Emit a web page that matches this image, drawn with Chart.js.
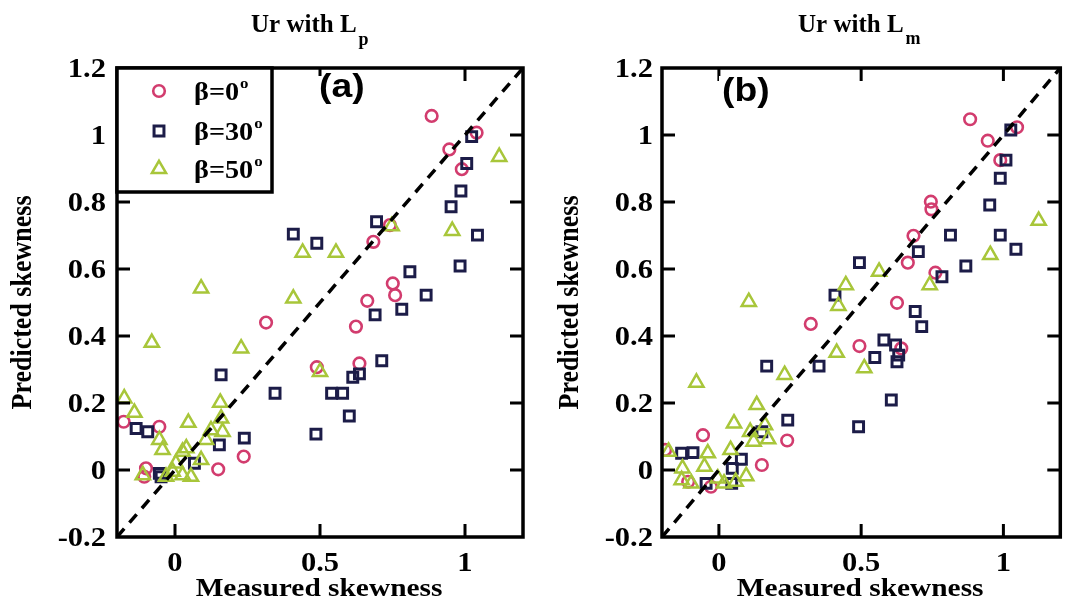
<!DOCTYPE html>
<html>
<head>
<meta charset="utf-8">
<script src="https://cdn.jsdelivr.net/npm/chart.js@4.4.1/dist/chart.umd.min.js"></script>
<style>
  html, body { margin: 0; padding: 0; background: #fff; }
  body { width: 1071px; height: 603px; overflow: hidden; position: relative; }
  .panel { position: absolute; top: 0; height: 603px; }
  #panelA { left: 0; width: 540px; }
  #panelB { left: 540px; width: 531px; }
</style>
</head>
<body>
<div class="panel" id="panelA"><canvas id="chartA"></canvas></div>
<div class="panel" id="panelB"><canvas id="chartB"></canvas></div>
<script>
// Axis ticks and their labels (shared by both panels)
const xTicks = [0, 0.5, 1];
const xTickLabels = ['0', '0.5', '1'];
const yTicks = [-0.2, 0, 0.2, 0.4, 0.6, 0.8, 1, 1.2];
const yTickLabels = ['-0.2', '0', '0.2', '0.4', '0.6', '0.8', '1', '1.2'];
const xAxisTitle = 'Measured skewness';
const yAxisTitle = 'Predicted skewness';
const seriesLabels = ['\u03B2=0', '\u03B2=30', '\u03B2=50'];
const diagonal = [-0.2, 1.2];

// (a) Ursell number with L_p : [measured, predicted]
const lpBeta0 = [[0.885,1.057],[1.040,1.007],[0.946,0.957],[0.989,0.898],[0.684,0.681],[0.741,0.731],
  [0.751,0.557],[0.759,0.522],[0.663,0.505],[0.624,0.428],[0.636,0.318],[0.489,0.307],[0.314,0.440],
  [-0.177,0.144],[-0.054,0.129],[0.237,0.040],[0.149,0.002],[-0.100,0.005],[-0.106,-0.020]];
const lpBeta30 = [[1.023,0.995],[1.006,0.915],[0.986,0.833],[0.952,0.786],[1.043,0.701],[0.695,0.741],
  [0.408,0.704],[0.489,0.677],[0.810,0.592],[0.983,0.609],[0.866,0.522],[0.782,0.480],[0.690,0.463],
  [0.713,0.326],[0.636,0.287],[0.613,0.277],[0.540,0.229],[0.578,0.229],[0.601,0.161],[0.486,0.107],
  [0.345,0.229],[0.159,0.284],[-0.134,0.124],[-0.094,0.114],[0.153,0.075],[0.239,0.095],[0.067,0.020],
  [-0.054,-0.010],[-0.048,-0.020]];
const lpBeta50 = [[1.118,0.935],[0.956,0.714],[0.747,0.728],[0.440,0.649],[0.555,0.649],[0.408,0.512],
  [0.500,0.293],[0.090,0.542],[-0.080,0.380],[0.228,0.363],[-0.175,0.214],[-0.140,0.171],[0.046,0.141],
  [0.156,0.201],[0.159,0.154],[0.164,0.114],[0.124,0.119],[0.107,0.090],[-0.054,0.090],[-0.043,0.060],
  [0.026,0.055],[0.039,0.065],[0.090,0.030],[0.003,0.020],[-0.111,-0.015],[-0.031,-0.020],[0.026,-0.015],
  [0.055,-0.020],[-0.008,-0.005]];

// (b) Ursell number with L_m : [measured, predicted]
const lmBeta0 = [[0.883,1.047],[1.048,1.023],[0.945,0.983],[0.989,0.925],[0.745,0.801],[0.747,0.778],
  [0.684,0.699],[0.664,0.619],[0.761,0.589],[0.626,0.499],[0.641,0.363],[0.494,0.370],[0.323,0.436],
  [-0.056,0.104],[0.240,0.088],[-0.189,0.060],[0.151,0.015],[-0.108,-0.035],[-0.028,-0.050]];
const lmBeta30 = [[1.026,1.015],[1.009,0.925],[0.989,0.871],[0.952,0.791],[0.989,0.701],[1.044,0.659],
  [0.814,0.701],[0.701,0.652],[0.494,0.619],[0.868,0.609],[0.784,0.577],[0.408,0.522],[0.690,0.473],
  [0.713,0.428],[0.580,0.388],[0.621,0.373],[0.632,0.343],[0.626,0.323],[0.548,0.336],[0.606,0.209],
  [0.491,0.129],[0.168,0.310],[0.352,0.310],[0.242,0.149],[0.151,0.114],[-0.131,0.050],[-0.091,0.052],
  [0.079,0.032],[0.047,0.005],[-0.045,-0.040],[0.045,-0.040]];
const lmBeta50 = [[1.124,0.744],[0.954,0.642],[0.563,0.592],[0.446,0.552],[0.741,0.552],[0.420,0.490],
  [0.414,0.350],[0.511,0.304],[0.105,0.502],[0.231,0.284],[-0.079,0.261],[0.133,0.194],[0.053,0.139],
  [0.162,0.134],[0.173,0.092],[0.122,0.085],[0.110,0.114],[-0.177,0.055],[-0.039,0.050],[0.041,0.060],
  [-0.128,0.005],[-0.051,0.010],[0.096,-0.018],[-0.004,-0.025],[-0.097,-0.040],[0.018,-0.040],
  [0.059,-0.035],[-0.131,-0.030]];

const SERIF = '"Liberation Serif", "Times New Roman", serif';
const SANS = '"Liberation Sans", Arial, sans-serif';
const SX = 1.13;           // horizontal widening of the lettering
const TICK = 13;
const styles = [
  { pointStyle: 'circle',   radius: 5.8, width: 2.6, color: '#d23c6e' },
  { pointStyle: 'rect',     radius: 7.0, width: 3.0, color: '#1c1c48' },
  { pointStyle: 'triangle', radius: 8.2, width: 2.5, color: '#a8c63a' }
];

function toPoints(pairs) { return pairs.map(p => ({ x: p[0], y: p[1] })); }

function wideText(ctx, text, x, y, align, font, sx) {
  const k = sx === undefined ? SX : sx;
  ctx.save();
  ctx.font = font;
  const w = ctx.measureText(text).width * k;
  const x0 = align === 'center' ? x - w / 2 : (align === 'right' ? x - w : x);
  ctx.translate(x0, y);
  ctx.scale(k, 1);
  ctx.textAlign = 'left';
  ctx.textBaseline = 'alphabetic';
  ctx.fillText(text, 0, 0);
  ctx.restore();
  return w;
}

function marker(ctx, st, x, y) {
  ctx.save();
  ctx.strokeStyle = st.color;
  ctx.lineWidth = st.width;
  ctx.beginPath();
  if (st.pointStyle === 'circle') {
    ctx.arc(x, y, st.radius, 0, Math.PI * 2);
  } else if (st.pointStyle === 'rect') {
    const s = st.radius * Math.SQRT1_2;
    ctx.rect(x - s, y - s, 2 * s, 2 * s);
  } else {
    const r = st.radius;
    for (let k = 0; k < 3; k++) {
      const a = k * 2 * Math.PI / 3;
      const px = x + Math.sin(a) * r, py = y - Math.cos(a) * r;
      if (k === 0) ctx.moveTo(px, py); else ctx.lineTo(px, py);
    }
    ctx.closePath();
  }
  ctx.stroke();
  ctx.restore();
}

const framePlugin = {
  id: 'frame',
  afterDatasetsDraw(chart, args, o) {
    const { ctx, chartArea: a } = chart;
    const xs = chart.scales.x, ys = chart.scales.y;
    ctx.save();
    ctx.strokeStyle = '#000';
    ctx.fillStyle = '#000';
    ctx.lineCap = 'butt';

    // inward tick marks on all four sides
    ctx.lineWidth = 3;
    ctx.beginPath();
    xTicks.forEach(v => {
      const px = xs.getPixelForValue(v);
      ctx.moveTo(px, a.bottom); ctx.lineTo(px, a.bottom - TICK);
      ctx.moveTo(px, a.top); ctx.lineTo(px, a.top + TICK);
    });
    yTicks.forEach(v => {
      if (v <= ys.min || v >= ys.max) return;
      const py = ys.getPixelForValue(v);
      ctx.moveTo(a.left, py); ctx.lineTo(a.left + TICK, py);
      ctx.moveTo(a.right, py); ctx.lineTo(a.right - TICK, py);
    });
    ctx.stroke();

    // axes box
    ctx.lineWidth = 3.5;
    ctx.strokeRect(a.left, a.top, a.right - a.left, a.bottom - a.top);

    // legend box
    if (o.legend) {
      const lx = a.left, ly = a.top, lw = 155, lh = 124;
      ctx.fillStyle = '#fff';
      ctx.fillRect(lx, ly, lw, lh);
      ctx.lineWidth = 3.5;
      ctx.strokeRect(lx, ly, lw, lh);
      const rows = [91, 131, 169];
      seriesLabels.forEach((lab, i) => {
        marker(ctx, styles[i], lx + 42, rows[i]);
        ctx.fillStyle = '#000';
        const w = wideText(ctx, lab, lx + 77, rows[i] + 9, 'left', 'bold 25px ' + SERIF);
        wideText(ctx, 'o', lx + 78 + w, rows[i] - 3, 'left', 'bold 15px ' + SERIF);
      });
    }

    // panel letter on a white patch
    const letterFont = 'bold 33px ' + SANS;
    ctx.font = letterFont;
    const lw2 = ctx.measureText(o.letter).width * SX;
    ctx.fillStyle = '#fff';
    ctx.fillRect(o.letterX - 3, a.top + 8, lw2 + 6, 32);
    ctx.fillStyle = '#000';
    wideText(ctx, o.letter, o.letterX, o.letterY, 'left', letterFont);

    // tick labels
    const tickFont = 'bold 27px ' + SERIF;
    yTicks.forEach((v, i) => {
      wideText(ctx, yTickLabels[i], a.left - o.yLabelGap, ys.getPixelForValue(v) + 9, 'right', tickFont);
    });
    xTicks.forEach((v, i) => {
      wideText(ctx, xTickLabels[i], xs.getPixelForValue(v), 571, 'center', tickFont);
    });

    // axis titles
    const titleFont = 'bold 26px ' + SERIF;
    wideText(ctx, xAxisTitle, (a.left + a.right) / 2 - 1, 596, 'center', titleFont);
    ctx.save();
    ctx.translate(o.yTitleX, (a.top + a.bottom) / 2);
    ctx.rotate(-Math.PI / 2);
    ctx.scale(1, SX);
    ctx.font = titleFont;
    ctx.textAlign = 'center';
    ctx.textBaseline = 'middle';
    ctx.fillText(yAxisTitle, 0, 0);
    ctx.restore();

    // panel title with subscript
    const w = wideText(ctx, o.title, o.titleX, 32, 'left', 'bold 25px ' + SERIF, 1.0);
    wideText(ctx, o.sub, o.titleX + w + 2, o.subY, 'left', 'bold 18px ' + SERIF, 1.0);
    ctx.restore();
  }
};

function buildChart(id, sets, pad, frameOpts) {
  const datasets = [
    { type: 'line', data: diagonal.map(v => ({ x: v, y: v })), borderColor: '#000', borderWidth: 3.5,
      borderDash: [11, 8], pointRadius: 0, fill: false, order: 0 }
  ];
  sets.forEach((pairs, i) => {
    const st = styles[i];
    datasets.push({
      label: seriesLabels[i], data: toPoints(pairs),
      pointStyle: st.pointStyle, pointRadius: st.radius, pointBorderWidth: st.width,
      borderColor: st.color, backgroundColor: 'rgba(0,0,0,0)', pointBackgroundColor: 'rgba(0,0,0,0)',
      showLine: false, order: 3 - i
    });
  });
  return new Chart(document.getElementById(id), {
    type: 'scatter',
    data: { datasets },
    options: {
      responsive: true, maintainAspectRatio: false, animation: false, devicePixelRatio: 1,
      events: [],
      layout: { padding: pad },
      plugins: { legend: { display: false }, tooltip: { enabled: false }, frame: frameOpts },
      scales: {
        x: { type: 'linear', min: -0.2, max: 1.2, display: false },
        y: { type: 'linear', min: -0.2, max: 1.2, display: false }
      }
    },
    plugins: [framePlugin]
  });
}

buildChart('chartA', [lpBeta0, lpBeta30, lpBeta50],
  { left: 117, right: 17, top: 68, bottom: 66 },
  { legend: true, letter: '(a)', letterX: 319, letterY: 97, yLabelGap: 11, yTitleX: 23,
    title: 'Ur with L', sub: 'p', titleX: 251, subY: 45 });

buildChart('chartB', [lmBeta0, lmBeta30, lmBeta50],
  { left: 122, right: 2, top: 68, bottom: 66 },
  { legend: false, letter: '(b)', letterX: 182, letterY: 101, yLabelGap: 9, yTitleX: 30,
    title: 'Ur with L', sub: 'm', titleX: 258, subY: 44 });
</script>
</body>
</html>
